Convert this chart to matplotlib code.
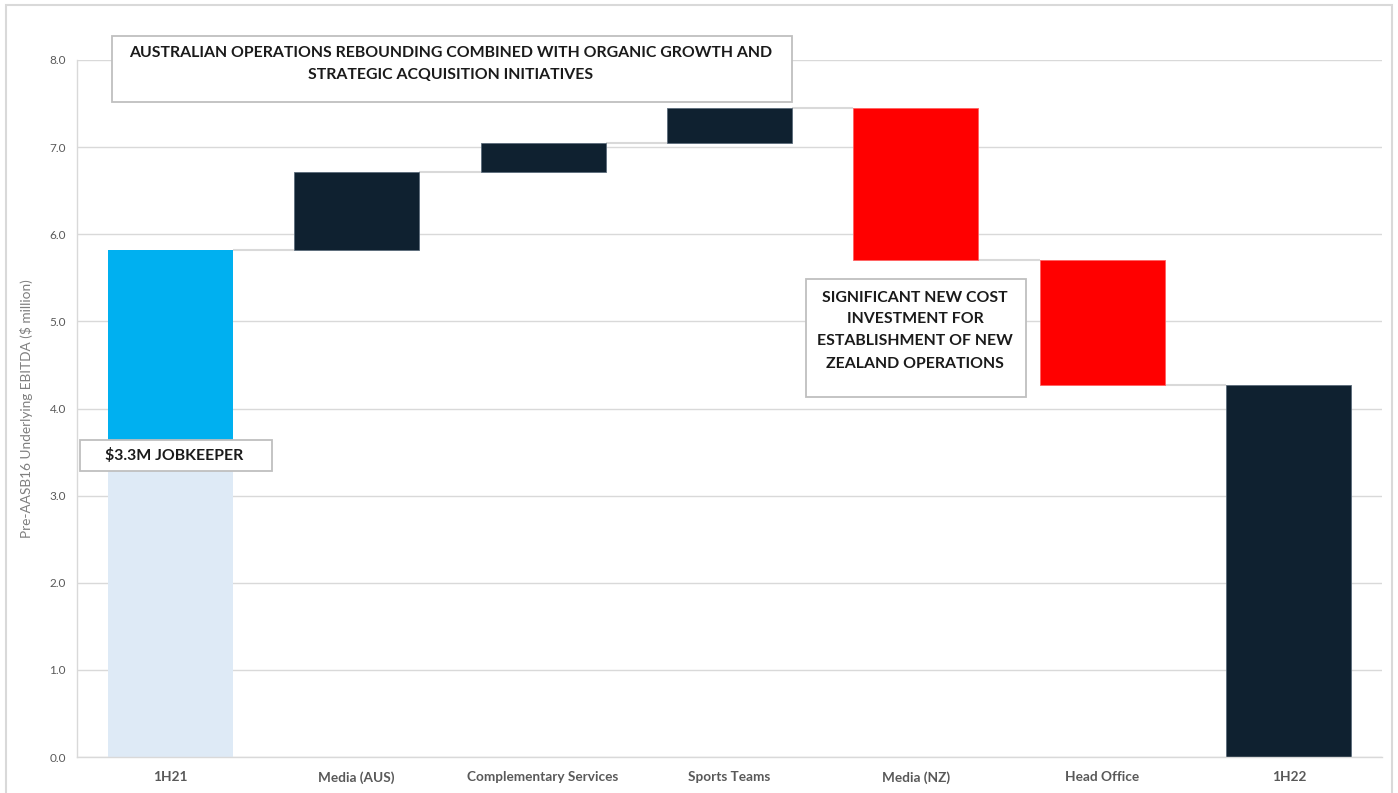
import matplotlib
matplotlib.use("Agg")
import matplotlib.pyplot as plt
from matplotlib.patches import Rectangle
import numpy as np

categories = ['1H21', 'Media (AUS)', 'Complementary Services', 'Sports Teams',
              'Media (NZ)', 'Head Office', '1H22']
opening_total = 5.82
jobkeeper_level = 3.3
changes = [0.90, 0.33, 0.40, -1.75, -1.43]
closing_total = 4.27
yticks = [0.0, 1.0, 2.0, 3.0, 4.0, 5.0, 6.0, 7.0, 8.0]

C_LIGHT = '#00B0F0'
C_PALE = '#DEEAF6'
C_DARK = '#0F2130'
C_RED = '#FF0000'
C_GRID = '#D9D9D9'
C_TEXT = '#595959'

plt.rcParams['font.family'] = ['Lato', 'DejaVu Sans']

W, H = 1398, 793
fig = plt.figure(figsize=(W / 100, H / 100), dpi=100)
ax = fig.add_axes([77 / W, 1 - 757 / H, (1382 - 77) / W, (757 - 60) / H])

x = np.arange(len(categories))
bw = 0.67

# opening bar split
ax.bar(x[0], jobkeeper_level, width=bw, color=C_PALE, zorder=2)
ax.bar(x[0], opening_total - jobkeeper_level, bottom=jobkeeper_level,
       width=bw, color=C_LIGHT, zorder=2)

levels = [opening_total]
for i, d in enumerate(changes):
    start = levels[-1]
    end = start + d
    col = C_DARK if d >= 0 else C_RED
    ax.bar(x[i + 1], abs(d), bottom=min(start, end), width=bw, color=col,
           edgecolor=('#5A6B7A' if d >= 0 else '#FF6060'), linewidth=0.6, zorder=2)
    levels.append(end)

ax.bar(x[-1], closing_total, width=bw, color=C_DARK, edgecolor='#5A6B7A',
       linewidth=0.6, zorder=2)
levels.append(closing_total)

# connectors
for i in range(len(categories) - 1):
    lvl = levels[i]
    ax.plot([x[i] + bw / 2, x[i + 1] - bw / 2], [lvl, lvl], color=C_GRID,
            lw=1.5, zorder=1, solid_capstyle='butt')

ax.set_xlim(-0.5, len(categories) - 0.5)
ax.set_ylim(0, 8)
ax.set_yticks(yticks)
ax.set_yticklabels([f'{v:.1f}' for v in yticks], color=C_TEXT, fontsize=8.5)
ax.set_xticks(x)
ax.set_xticklabels(categories, color=C_TEXT, fontsize=9.8, fontweight='bold')
ax.tick_params(axis='both', length=0, pad=8)
ax.tick_params(axis='x', pad=10)
ax.yaxis.grid(True, color=C_GRID, lw=1, zorder=0)
ax.set_axisbelow(True)
for s in ['top', 'right']:
    ax.spines[s].set_visible(False)
ax.spines['left'].set_color(C_GRID)
ax.spines['bottom'].set_color(C_GRID)
ax.spines['left'].set_linewidth(1)
ax.spines['bottom'].set_linewidth(1)
ax.set_ylabel('Pre-AASB16 Underlying EBITDA ($ million)', color='#7F7F7F',
              fontsize=9.8, labelpad=12)

# figure frame
fig.patches.append(Rectangle((6 / W, -0.05), (1392 - 6) / W, 1.05 - 5 / H,
                             transform=fig.transFigure, fill=False,
                             edgecolor=C_GRID, lw=1.5))

def box(x0, y0, x1, y1):
    fig.patches.append(Rectangle((x0 / W, 1 - y1 / H), (x1 - x0) / W, (y1 - y0) / H,
                                 transform=fig.transFigure, facecolor='white',
                                 edgecolor='#BFBFBF', lw=1.3, zorder=5))

FS = 11.4
box(112, 36, 792, 102)
fig.text(451 / W, 1 - 53 / H, 'AUSTRALIAN OPERATIONS REBOUNDING COMBINED WITH ORGANIC GROWTH AND',
         ha='center', va='center', fontsize=FS, fontweight='bold', color='#1a1a1a', zorder=6)
fig.text(451 / W, 1 - 75 / H, 'STRATEGIC ACQUISITION INITIATIVES',
         ha='center', va='center', fontsize=FS, fontweight='bold', color='#1a1a1a', zorder=6)

box(80, 440, 272, 471)
fig.text(105 / W, 1 - 456 / H, '$3.3M JOBKEEPER', ha='left', va='center',
         fontsize=FS, fontweight='bold', color='#1a1a1a', zorder=6)

box(806, 279, 1026, 397)
for yy, t in zip([298, 319, 341, 364],
                 ['SIGNIFICANT NEW COST', 'INVESTMENT FOR',
                  'ESTABLISHMENT OF NEW', 'ZEALAND OPERATIONS']):
    fig.text(915 / W, 1 - yy / H, t, ha='center', va='center', fontsize=FS,
             fontweight='bold', color='#1a1a1a', zorder=6)

fig.savefig('out.png', dpi=100, facecolor='white')
